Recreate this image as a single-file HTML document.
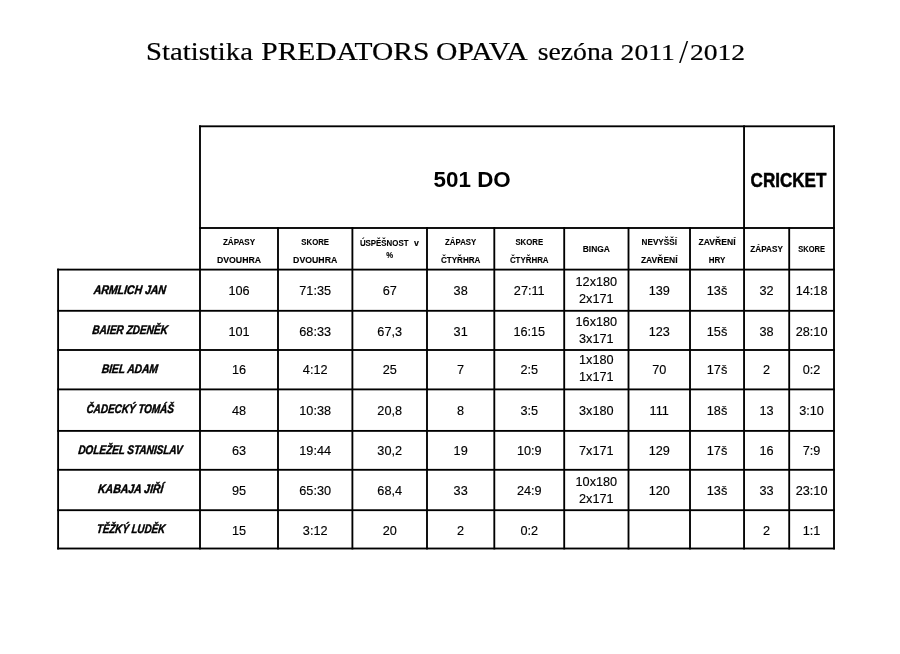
<!DOCTYPE html>
<html lang="cs"><head><meta charset="utf-8"><title>Statistika PREDATORS OPAVA sezóna 2011/2012</title>
<style>
html,body{margin:0;padding:0;background:#fff;}
body{width:900px;height:654px;overflow:hidden;}
svg{display:block;}
text{fill:#000;}
.tt{font-family:"Liberation Serif",serif;font-size:25px;stroke:#000;stroke-width:.2px;}
.ts{font-family:"Liberation Serif",serif;font-size:33px;}
.td{font-family:"Liberation Serif",serif;font-size:22.8px;stroke:#000;stroke-width:.2px;}
.h1{font-family:"Liberation Sans",sans-serif;font-weight:bold;font-size:21.8px;}
.h2{font-family:"Liberation Sans",sans-serif;font-weight:bold;font-size:19.4px;stroke:#000;stroke-width:.5px;}
.ch{font-family:"Liberation Sans",sans-serif;font-weight:bold;font-size:9px;stroke:#000;stroke-width:.12px;}
.nm{font-family:"Liberation Sans",sans-serif;font-weight:bold;font-style:italic;font-size:12.4px;stroke:#000;stroke-width:.45px;}
.dt{font-family:"Liberation Sans",sans-serif;font-size:12.7px;stroke:#000;stroke-width:.15px;}
</style></head><body>
<svg width="900" height="654" viewBox="0 0 900 654">
<rect width="900" height="654" fill="#fff"/>
<g fill="#000">
<rect x="199.07" y="125.38" width="635.85" height="1.85"/>
<rect x="199.07" y="227.07" width="635.85" height="1.85"/>
<rect x="57.18" y="268.68" width="777.75" height="1.85"/>
<rect x="57.18" y="309.88" width="777.75" height="1.85"/>
<rect x="57.18" y="349.07" width="777.75" height="1.85"/>
<rect x="57.18" y="388.47" width="777.75" height="1.85"/>
<rect x="57.18" y="429.97" width="777.75" height="1.85"/>
<rect x="57.18" y="468.88" width="777.75" height="1.85"/>
<rect x="57.18" y="509.27" width="777.75" height="1.85"/>
<rect x="57.18" y="547.58" width="777.75" height="1.85"/>
<rect x="57.18" y="268.68" width="1.85" height="280.75"/>
<rect x="199.07" y="125.38" width="1.85" height="424.05"/>
<rect x="277.07" y="227.07" width="1.85" height="322.35"/>
<rect x="351.47" y="227.07" width="1.85" height="322.35"/>
<rect x="426.07" y="227.07" width="1.85" height="322.35"/>
<rect x="493.38" y="227.07" width="1.85" height="322.35"/>
<rect x="563.28" y="227.07" width="1.85" height="322.35"/>
<rect x="627.58" y="227.07" width="1.85" height="322.35"/>
<rect x="689.08" y="227.07" width="1.85" height="322.35"/>
<rect x="743.12" y="125.38" width="1.85" height="424.05"/>
<rect x="788.28" y="227.07" width="1.85" height="322.35"/>
<rect x="833.08" y="125.38" width="1.85" height="424.05"/>
</g>
<text class="tt" x="146.10" y="60.20" text-anchor="start" textLength="106.8" lengthAdjust="spacingAndGlyphs">Statistika</text>
<text class="tt" x="261.30" y="60.20" text-anchor="start" textLength="168.0" lengthAdjust="spacingAndGlyphs">PREDATORS</text>
<text class="tt" x="436.10" y="60.20" text-anchor="start" textLength="91.6" lengthAdjust="spacingAndGlyphs">OPAVA</text>
<text class="tt" x="537.70" y="60.20" text-anchor="start" textLength="75.4" lengthAdjust="spacingAndGlyphs">sezóna</text>
<text class="td" x="620.60" y="60.30" text-anchor="start" textLength="54.2" lengthAdjust="spacingAndGlyphs">2011</text>
<text class="ts" x="679.00" y="63.30" text-anchor="start">/</text>
<text class="td" x="689.90" y="60.30" text-anchor="start" textLength="55.2" lengthAdjust="spacingAndGlyphs">2012</text>
<text class="h1" x="472.15" y="186.50" text-anchor="middle" textLength="77.2" lengthAdjust="spacingAndGlyphs">501 DO</text>
<text class="h2" x="788.50" y="186.80" text-anchor="middle" textLength="75.8" lengthAdjust="spacingAndGlyphs">CRICKET</text>
<text class="ch" x="239.00" y="245.00" text-anchor="middle" textLength="32.2" lengthAdjust="spacingAndGlyphs">ZÁPASY</text>
<text class="ch" x="239.00" y="262.50" text-anchor="middle" textLength="44.2" lengthAdjust="spacingAndGlyphs">DVOUHRA</text>
<text class="ch" x="315.20" y="245.00" text-anchor="middle" textLength="27.7" lengthAdjust="spacingAndGlyphs">SKORE</text>
<text class="ch" x="315.20" y="262.50" text-anchor="middle" textLength="44.2" lengthAdjust="spacingAndGlyphs">DVOUHRA</text>
<text class="ch" x="389.70" y="258.00" text-anchor="middle" textLength="6.9" lengthAdjust="spacingAndGlyphs">%</text>
<text class="ch" x="460.65" y="245.00" text-anchor="middle" textLength="31.1" lengthAdjust="spacingAndGlyphs">ZÁPASY</text>
<text class="ch" x="460.65" y="262.50" text-anchor="middle" textLength="39.4" lengthAdjust="spacingAndGlyphs">ČTYŘHRA</text>
<text class="ch" x="529.25" y="245.00" text-anchor="middle" textLength="27.7" lengthAdjust="spacingAndGlyphs">SKORE</text>
<text class="ch" x="529.25" y="262.50" text-anchor="middle" textLength="38.7" lengthAdjust="spacingAndGlyphs">ČTYŘHRA</text>
<text class="ch" x="596.35" y="252.00" text-anchor="middle" textLength="27.2" lengthAdjust="spacingAndGlyphs">BINGA</text>
<text class="ch" x="659.25" y="245.00" text-anchor="middle" textLength="35.4" lengthAdjust="spacingAndGlyphs">NEVYŠŠÍ</text>
<text class="ch" x="659.25" y="262.50" text-anchor="middle" textLength="36.7" lengthAdjust="spacingAndGlyphs">ZAVŘENÍ</text>
<text class="ch" x="717.02" y="245.00" text-anchor="middle" textLength="37.0" lengthAdjust="spacingAndGlyphs">ZAVŘENÍ</text>
<text class="ch" x="717.02" y="262.50" text-anchor="middle" textLength="16.6" lengthAdjust="spacingAndGlyphs">HRY</text>
<text class="ch" x="766.62" y="252.00" text-anchor="middle" textLength="32.5" lengthAdjust="spacingAndGlyphs">ZÁPASY</text>
<text class="ch" x="811.60" y="252.00" text-anchor="middle" textLength="26.7" lengthAdjust="spacingAndGlyphs">SKORE</text>
<text class="ch" x="359.90" y="245.80" text-anchor="start" textLength="48.6" lengthAdjust="spacingAndGlyphs">ÚSPĚŠNOST</text>
<text class="ch" x="414.00" y="245.80" text-anchor="start" textLength="4.9" lengthAdjust="spacingAndGlyphs">v</text>
<text class="nm" x="0.00" y="0.00" text-anchor="middle" textLength="72.2" lengthAdjust="spacingAndGlyphs" transform="translate(129.50 294.10) skewX(-6)">ARMLICH JAN</text>
<text class="nm" x="0.00" y="0.00" text-anchor="middle" textLength="75.3" lengthAdjust="spacingAndGlyphs" transform="translate(129.75 333.80) skewX(-6)">BAIER ZDENĚK</text>
<text class="nm" x="0.00" y="0.00" text-anchor="middle" textLength="56.2" lengthAdjust="spacingAndGlyphs" transform="translate(129.50 373.40) skewX(-6)">BIEL ADAM</text>
<text class="nm" x="0.00" y="0.00" text-anchor="middle" textLength="87.4" lengthAdjust="spacingAndGlyphs" transform="translate(129.90 413.20) skewX(-6)">ČADECKÝ TOMÁŠ</text>
<text class="nm" x="0.00" y="0.00" text-anchor="middle" textLength="104.3" lengthAdjust="spacingAndGlyphs" transform="translate(130.05 453.90) skewX(-6)">DOLEŽEL STANISLAV</text>
<text class="nm" x="0.00" y="0.00" text-anchor="middle" textLength="65.2" lengthAdjust="spacingAndGlyphs" transform="translate(130.40 493.30) skewX(-6)">KABAJA JIŘÍ</text>
<text class="nm" x="0.00" y="0.00" text-anchor="middle" textLength="68.4" lengthAdjust="spacingAndGlyphs" transform="translate(130.60 532.80) skewX(-6)">TĚŽKÝ LUDĚK</text>
<text class="dt" x="239.00" y="294.90" text-anchor="middle">106</text>
<text class="dt" x="315.20" y="294.90" text-anchor="middle">71:35</text>
<text class="dt" x="389.70" y="294.90" text-anchor="middle">67</text>
<text class="dt" x="460.65" y="294.90" text-anchor="middle">38</text>
<text class="dt" x="529.25" y="294.90" text-anchor="middle">27:11</text>
<text class="dt" x="596.35" y="286.00" text-anchor="middle">12x180</text>
<text class="dt" x="596.35" y="303.10" text-anchor="middle">2x171</text>
<text class="dt" x="659.25" y="294.90" text-anchor="middle">139</text>
<text class="dt" x="717.02" y="294.90" text-anchor="middle">13š</text>
<text class="dt" x="766.62" y="294.90" text-anchor="middle">32</text>
<text class="dt" x="811.60" y="294.90" text-anchor="middle">14:18</text>
<text class="dt" x="239.00" y="335.70" text-anchor="middle">101</text>
<text class="dt" x="315.20" y="335.70" text-anchor="middle">68:33</text>
<text class="dt" x="389.70" y="335.70" text-anchor="middle">67,3</text>
<text class="dt" x="460.65" y="335.70" text-anchor="middle">31</text>
<text class="dt" x="529.25" y="335.70" text-anchor="middle">16:15</text>
<text class="dt" x="596.35" y="326.40" text-anchor="middle">16x180</text>
<text class="dt" x="596.35" y="343.20" text-anchor="middle">3x171</text>
<text class="dt" x="659.25" y="335.70" text-anchor="middle">123</text>
<text class="dt" x="717.02" y="335.70" text-anchor="middle">15š</text>
<text class="dt" x="766.62" y="335.70" text-anchor="middle">38</text>
<text class="dt" x="811.60" y="335.70" text-anchor="middle">28:10</text>
<text class="dt" x="239.00" y="374.30" text-anchor="middle">16</text>
<text class="dt" x="315.20" y="374.30" text-anchor="middle">4:12</text>
<text class="dt" x="389.70" y="374.30" text-anchor="middle">25</text>
<text class="dt" x="460.65" y="374.30" text-anchor="middle">7</text>
<text class="dt" x="529.25" y="374.30" text-anchor="middle">2:5</text>
<text class="dt" x="596.35" y="363.70" text-anchor="middle">1x180</text>
<text class="dt" x="596.35" y="380.80" text-anchor="middle">1x171</text>
<text class="dt" x="659.25" y="374.30" text-anchor="middle">70</text>
<text class="dt" x="717.02" y="374.30" text-anchor="middle">17š</text>
<text class="dt" x="766.62" y="374.30" text-anchor="middle">2</text>
<text class="dt" x="811.60" y="374.30" text-anchor="middle">0:2</text>
<text class="dt" x="239.00" y="414.90" text-anchor="middle">48</text>
<text class="dt" x="315.20" y="414.90" text-anchor="middle">10:38</text>
<text class="dt" x="389.70" y="414.90" text-anchor="middle">20,8</text>
<text class="dt" x="460.65" y="414.90" text-anchor="middle">8</text>
<text class="dt" x="529.25" y="414.90" text-anchor="middle">3:5</text>
<text class="dt" x="596.35" y="414.90" text-anchor="middle">3x180</text>
<text class="dt" x="659.25" y="414.90" text-anchor="middle">111</text>
<text class="dt" x="717.02" y="414.90" text-anchor="middle">18š</text>
<text class="dt" x="766.62" y="414.90" text-anchor="middle">13</text>
<text class="dt" x="811.60" y="414.90" text-anchor="middle">3:10</text>
<text class="dt" x="239.00" y="454.75" text-anchor="middle">63</text>
<text class="dt" x="315.20" y="454.75" text-anchor="middle">19:44</text>
<text class="dt" x="389.70" y="454.75" text-anchor="middle">30,2</text>
<text class="dt" x="460.65" y="454.75" text-anchor="middle">19</text>
<text class="dt" x="529.25" y="454.75" text-anchor="middle">10:9</text>
<text class="dt" x="596.35" y="454.75" text-anchor="middle">7x171</text>
<text class="dt" x="659.25" y="454.75" text-anchor="middle">129</text>
<text class="dt" x="717.02" y="454.75" text-anchor="middle">17š</text>
<text class="dt" x="766.62" y="454.75" text-anchor="middle">16</text>
<text class="dt" x="811.60" y="454.75" text-anchor="middle">7:9</text>
<text class="dt" x="239.00" y="494.80" text-anchor="middle">95</text>
<text class="dt" x="315.20" y="494.80" text-anchor="middle">65:30</text>
<text class="dt" x="389.70" y="494.80" text-anchor="middle">68,4</text>
<text class="dt" x="460.65" y="494.80" text-anchor="middle">33</text>
<text class="dt" x="529.25" y="494.80" text-anchor="middle">24:9</text>
<text class="dt" x="596.35" y="486.10" text-anchor="middle">10x180</text>
<text class="dt" x="596.35" y="502.80" text-anchor="middle">2x171</text>
<text class="dt" x="659.25" y="494.80" text-anchor="middle">120</text>
<text class="dt" x="717.02" y="494.80" text-anchor="middle">13š</text>
<text class="dt" x="766.62" y="494.80" text-anchor="middle">33</text>
<text class="dt" x="811.60" y="494.80" text-anchor="middle">23:10</text>
<text class="dt" x="239.00" y="534.65" text-anchor="middle">15</text>
<text class="dt" x="315.20" y="534.65" text-anchor="middle">3:12</text>
<text class="dt" x="389.70" y="534.65" text-anchor="middle">20</text>
<text class="dt" x="460.65" y="534.65" text-anchor="middle">2</text>
<text class="dt" x="529.25" y="534.65" text-anchor="middle">0:2</text>
<text class="dt" x="766.62" y="534.65" text-anchor="middle">2</text>
<text class="dt" x="811.60" y="534.65" text-anchor="middle">1:1</text>
</svg>
</body></html>
